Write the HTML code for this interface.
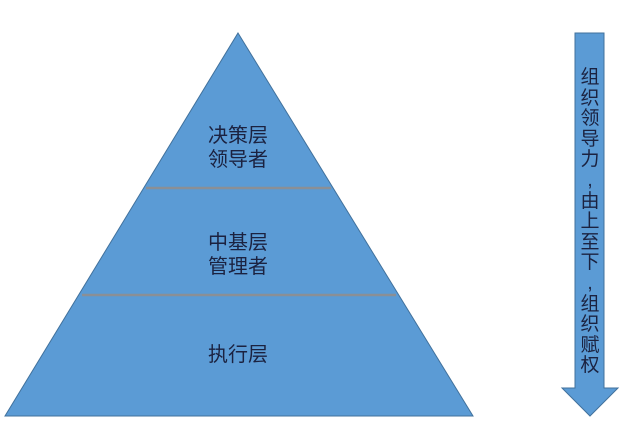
<!DOCTYPE html>
<html><head><meta charset="utf-8"><style>
body{margin:0;width:627px;height:424px;background:#fff;overflow:hidden;position:relative;font-family:"Liberation Sans","Noto Sans CJK SC",sans-serif;}
.t{position:absolute;color:#1b2240;font-size:20px;line-height:24px;text-align:center;}
</style></head><body>
<svg width="627" height="424" style="position:absolute;left:0;top:0">
<polygon points="238,33 473,416 5,416" fill="#5b9bd5" stroke="#41719c" stroke-width="1"/>
<line x1="146" y1="188" x2="331" y2="188" stroke="#8a8f96" stroke-width="2.5"/>
<line x1="82" y1="295" x2="396" y2="295" stroke="#8a8f96" stroke-width="2.5"/>
<polygon points="575,33 604,33 604,388 618,388 590,416 562,388 575,388" fill="#5b9bd5" stroke="#41719c" stroke-width="1"/>
</svg>
<div class="t" style="left:188px;top:124px;width:100px">决策层<br>领导者</div>
<div class="t" style="left:188px;top:231px;width:100px">中基层<br>管理者</div>
<div class="t" style="left:188px;top:343px;width:100px">执行层</div>
<div class="t" style="left:577px;top:68px;width:26px;line-height:20.6px;font-size:19px">组<br>织<br>领<br>导<br>力<br>,<br>由<br>上<br>至<br>下<br>,<br>组<br>织<br>赋<br>权</div>
</body></html>
